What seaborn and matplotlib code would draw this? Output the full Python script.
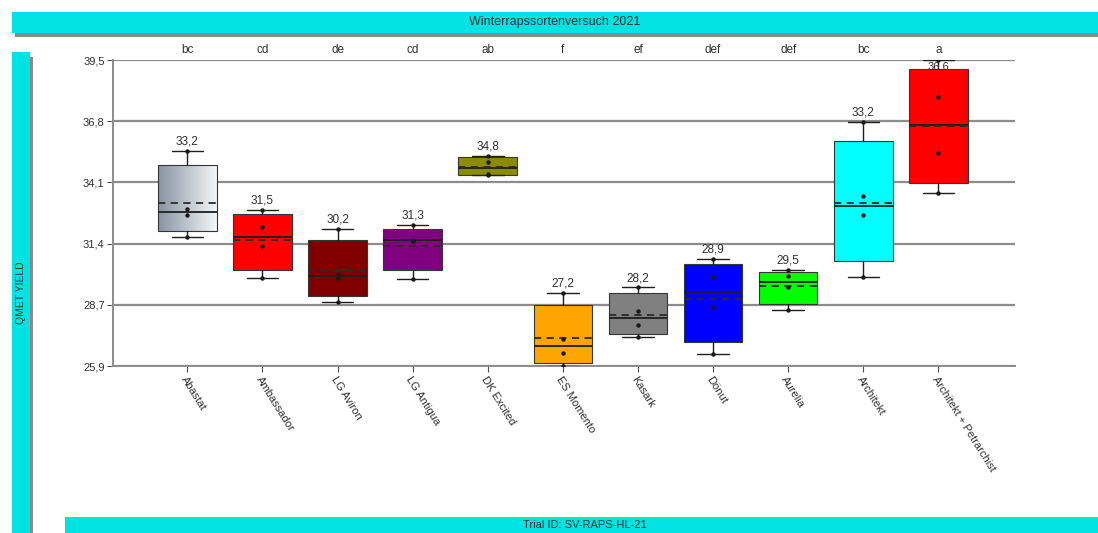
import numpy as np
import pandas as pd
import matplotlib
matplotlib.use("Agg")
import matplotlib.pyplot as plt
import matplotlib.transforms as mtransforms
from matplotlib.colors import LinearSegmentedColormap
from matplotlib.patches import Rectangle
import seaborn as sns

# ---------------- data ----------------
varieties = ["Abastat", "Ambassador", "LG Aviron", "LG Antigua", "DK Excited",
             "ES Momento", "Kasark", "Dönut", "Aurelia", "Architekt",
             "Architekt + Petrarchist"]
# four replicate yields per variety (sorted)
rep_a = [31.69, 29.87, 28.79, 29.79, 34.42, 25.94, 27.21, 26.47, 28.43, 29.90, 33.64]
rep_b = [32.65, 31.27, 29.83, 31.51, 34.48, 26.54, 27.78, 28.55, 29.46, 32.64, 35.41]
rep_c = [32.91, 32.11, 30.05, 31.53, 35.01, 27.15, 28.38, 29.90, 29.92, 33.48, 37.91]
rep_d = [35.51, 32.89, 32.04, 32.20, 35.29, 29.17, 29.43, 30.68, 30.19, 36.78, 39.54]
letters = ["bc", "cd", "de", "cd", "ab", "f", "ef", "def", "def", "bc", "a"]
box_colors = ["#c4ccd4", "#ff0000", "#800000", "#800080", "#8c8c00", "#ffa500",
              "#808080", "#0000ff", "#00ff00", "#00ffff", "#ff0000"]
y_min, y_max = 25.94, 39.54
title = "Winterrapssortenversuch 2021"
y_title = "QMET YIELD"
footer = "Trial ID: SV-RAPS-HL-21"

df = pd.DataFrame({
    "variety": np.repeat(varieties, 4),
    "yield": np.column_stack([rep_a, rep_b, rep_c, rep_d]).ravel(),
})

# ---------------- style ----------------
sns.set_theme(style="white")
plt.rcParams["font.family"] = ["Liberation Sans", "DejaVu Sans"]
txt = "#303030"
cyan = "#00e3e3"
shadow = "#8a8a8a"

W, H = 1098, 533
fig = plt.figure(figsize=(W / 100, H / 100), dpi=100)

def rect_px(x0, y0, x1, y1, color, z=0):
    fig.patches.append(Rectangle((x0 / W, 1 - y1 / H), (x1 - x0) / W, (y1 - y0) / H,
                                 transform=fig.transFigure, facecolor=color,
                                 edgecolor="none", zorder=z))

# banners with shadow
rect_px(15, 16, 1098, 37, shadow)
rect_px(12, 12, 1098, 33, cyan, 1)
rect_px(15, 57, 33, 533, shadow)
rect_px(12, 52, 30, 533, cyan, 1)
rect_px(65, 517, 1098, 533, cyan, 1)
fig.text(555 / W, 1 - 22 / H, title, ha="center", va="center", fontsize=9, color=txt)
fig.text(21 / W, 1 - 293 / H, y_title, ha="center", va="center", rotation=90,
         fontsize=7.5, color=txt)
fig.text(585 / W, 1 - 525 / H, footer, ha="center", va="center", fontsize=8, color=txt)

ax = fig.add_axes([113 / W, 1 - 366 / H, (1015 - 113) / W, (366 - 60) / H])

# replicate points (seaborn)
sns.stripplot(data=df, x="variety", y="yield", order=varieties, jitter=False,
              color="#1a1a1a", size=3.2, linewidth=0, ax=ax, zorder=6)

# box statistics (Weibull quartiles as in the source chart)
stats = []
for i, v in enumerate(varieties):
    vals = df.loc[df["variety"] == v, "yield"].to_numpy()
    q1, med, q3 = np.percentile(vals, [25, 50, 75], method="weibull")
    stats.append(dict(med=med, q1=q1, q3=q3, whislo=vals.min(), whishi=vals.max(),
                      mean=vals.mean(), fliers=[], label=v))

bp = ax.bxp(stats, positions=range(len(varieties)), widths=0.78, patch_artist=True,
            showmeans=True, meanline=True, showfliers=False, manage_ticks=False,
            capwidths=0.42,
            boxprops=dict(edgecolor="#353535", linewidth=0.8),
            medianprops=dict(color="#1e1e1e", linewidth=1.3),
            meanprops=dict(color="#2a2a2a", linewidth=1.3, linestyle=(0, (4, 3))),
            whiskerprops=dict(color="#1e1e1e", linewidth=1.0),
            capprops=dict(color="#1e1e1e", linewidth=1.0))
for patch, c in zip(bp["boxes"], box_colors):
    patch.set_facecolor(c)
    patch.set_zorder(3)
for k in ("medians", "means", "whiskers", "caps"):
    for ln in bp[k]:
        ln.set_zorder(4)

# gradient fill for the first box
p0 = bp["boxes"][0]
verts = p0.get_path().vertices
x0, x1 = verts[:, 0].min(), verts[:, 0].max()
yb0, yb1 = verts[:, 1].min(), verts[:, 1].max()
grad_cmap = LinearSegmentedColormap.from_list("g", ["#8794a1", "#f4f6f8"])
im = ax.imshow(np.linspace(0, 1, 256)[None, :], extent=[x0, x1, yb0, yb1],
               aspect="auto", cmap=grad_cmap, zorder=3, origin="lower")
im.set_clip_path(p0)
p0.set_facecolor("none")
p0.set_zorder(3.5)

# mean labels (kept inside the plot area) and significance letters
for i, s in enumerate(stats):
    label = f"{s['mean']:.1f}".replace(".", ",")
    if s["whishi"] > y_max - 0.5:
        ax.annotate(label, (i, y_max), xytext=(0, -1), textcoords="offset points",
                    ha="center", va="top", fontsize=8, color=txt, zorder=7)
    else:
        ax.annotate(label, (i, s["whishi"]), xytext=(0, 2.5),
                    textcoords="offset points", ha="center", va="bottom",
                    fontsize=8.5, color=txt, zorder=7)
trans = mtransforms.blended_transform_factory(ax.transData, ax.transAxes)
for i, l in enumerate(letters):
    ax.text(i, 1.012, l, transform=trans, ha="center", va="bottom", fontsize=8.5,
            color=txt)

# axes
ax.set_xlim(-0.99, 11.02)
ax.set_ylim(y_min, y_max)
yt = np.linspace(y_min, y_max, 6)
ax.set_yticks(yt)
ax.set_yticklabels([f"{t:.1f}".replace(".", ",") for t in yt], fontsize=8, color=txt)
ax.set_xticks(range(len(varieties)))
ax.set_xticklabels(varieties, rotation=-58, ha="left", va="top",
                   rotation_mode="anchor", fontsize=8, color=txt)
ax.set_xlabel("")
ax.set_ylabel("")
ax.yaxis.grid(True, color="#8c8c8c", linewidth=1.6)
ax.xaxis.grid(False)
ax.set_axisbelow(True)
for side in ("top", "right"):
    ax.spines[side].set_visible(False)
for side in ("left", "bottom"):
    ax.spines[side].set_color("#8c8c8c")
    ax.spines[side].set_linewidth(1.4)
ax.tick_params(axis="both", which="both", direction="out", length=4, width=0.8,
               color="#505050", pad=2, left=True, bottom=True)
ax.set_facecolor("white")

fig.savefig("out.png", dpi=100, facecolor="white")
